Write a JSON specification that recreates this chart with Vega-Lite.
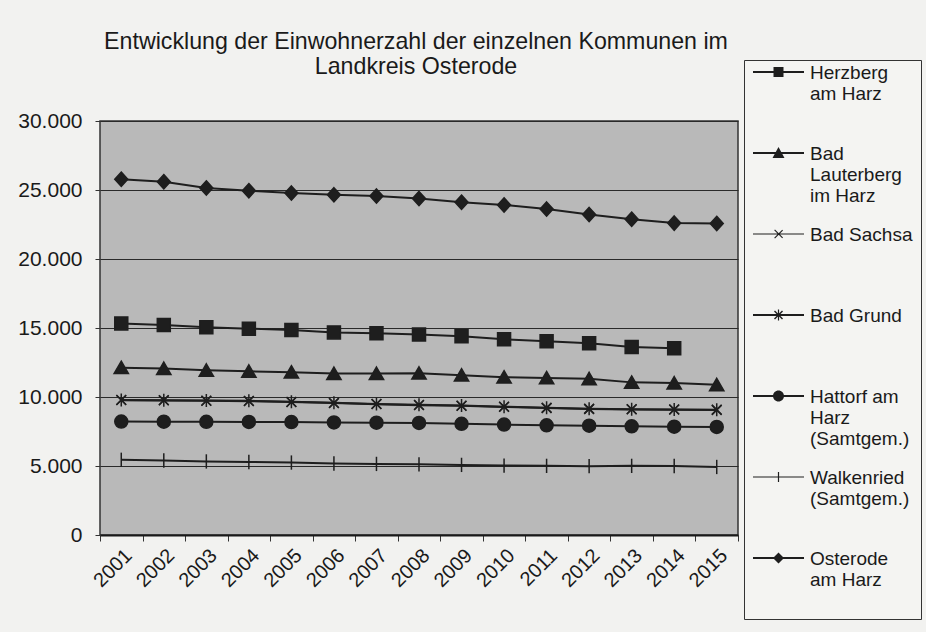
{
  "$schema": "https://vega.github.io/schema/vega-lite/v6.json",
  "width": 638,
  "height": 414,
  "autosize": {"type": "none"},
  "padding": {"left": 100, "top": 121, "right": 188, "bottom": 97},
  "background": "#f2f2f0",
  "title": {
    "text": ["Entwicklung der Einwohnerzahl der einzelnen Kommunen im", "Landkreis Osterode"],
    "font": "Liberation Sans",
    "fontSize": 23.2,
    "fontWeight": "normal",
    "color": "#1a1a1a",
    "anchor": "middle",
    "frame": "group",
    "lineHeight": 25,
    "offset": -20,
    "dx": -3
  },
  "config": {
    "locale": {"number": {"decimal": ",", "thousands": ".", "grouping": [3], "currency": ["", " €"]}},
    "view": {"fill": "#b9b9b9", "stroke": "#333333", "strokeWidth": 1.5},
    "axis": {"labelFont": "Liberation Sans", "labelColor": "#1a1a1a", "titleFont": "Liberation Sans"}
  },
  "data": {"values": [
    {"Kommune": "Herzberg am Harz", "Jahr": "2001", "Einwohner": 15330},
    {"Kommune": "Herzberg am Harz", "Jahr": "2002", "Einwohner": 15220},
    {"Kommune": "Herzberg am Harz", "Jahr": "2003", "Einwohner": 15060},
    {"Kommune": "Herzberg am Harz", "Jahr": "2004", "Einwohner": 14950},
    {"Kommune": "Herzberg am Harz", "Jahr": "2005", "Einwohner": 14850},
    {"Kommune": "Herzberg am Harz", "Jahr": "2006", "Einwohner": 14680},
    {"Kommune": "Herzberg am Harz", "Jahr": "2007", "Einwohner": 14620},
    {"Kommune": "Herzberg am Harz", "Jahr": "2008", "Einwohner": 14530},
    {"Kommune": "Herzberg am Harz", "Jahr": "2009", "Einwohner": 14400},
    {"Kommune": "Herzberg am Harz", "Jahr": "2010", "Einwohner": 14180},
    {"Kommune": "Herzberg am Harz", "Jahr": "2011", "Einwohner": 14040},
    {"Kommune": "Herzberg am Harz", "Jahr": "2012", "Einwohner": 13900},
    {"Kommune": "Herzberg am Harz", "Jahr": "2013", "Einwohner": 13630},
    {"Kommune": "Herzberg am Harz", "Jahr": "2014", "Einwohner": 13530},
    {"Kommune": "Bad Lauterberg im Harz", "Jahr": "2001", "Einwohner": 12120},
    {"Kommune": "Bad Lauterberg im Harz", "Jahr": "2002", "Einwohner": 12060},
    {"Kommune": "Bad Lauterberg im Harz", "Jahr": "2003", "Einwohner": 11930},
    {"Kommune": "Bad Lauterberg im Harz", "Jahr": "2004", "Einwohner": 11860},
    {"Kommune": "Bad Lauterberg im Harz", "Jahr": "2005", "Einwohner": 11800},
    {"Kommune": "Bad Lauterberg im Harz", "Jahr": "2006", "Einwohner": 11700},
    {"Kommune": "Bad Lauterberg im Harz", "Jahr": "2007", "Einwohner": 11700},
    {"Kommune": "Bad Lauterberg im Harz", "Jahr": "2008", "Einwohner": 11720},
    {"Kommune": "Bad Lauterberg im Harz", "Jahr": "2009", "Einwohner": 11580},
    {"Kommune": "Bad Lauterberg im Harz", "Jahr": "2010", "Einwohner": 11440},
    {"Kommune": "Bad Lauterberg im Harz", "Jahr": "2011", "Einwohner": 11380},
    {"Kommune": "Bad Lauterberg im Harz", "Jahr": "2012", "Einwohner": 11320},
    {"Kommune": "Bad Lauterberg im Harz", "Jahr": "2013", "Einwohner": 11060},
    {"Kommune": "Bad Lauterberg im Harz", "Jahr": "2014", "Einwohner": 11010},
    {"Kommune": "Bad Lauterberg im Harz", "Jahr": "2015", "Einwohner": 10880},
    {"Kommune": "Bad Sachsa", "Jahr": "2001", "Einwohner": 9770},
    {"Kommune": "Bad Sachsa", "Jahr": "2002", "Einwohner": 9750},
    {"Kommune": "Bad Sachsa", "Jahr": "2003", "Einwohner": 9720},
    {"Kommune": "Bad Sachsa", "Jahr": "2004", "Einwohner": 9700},
    {"Kommune": "Bad Sachsa", "Jahr": "2005", "Einwohner": 9630},
    {"Kommune": "Bad Sachsa", "Jahr": "2006", "Einwohner": 9560},
    {"Kommune": "Bad Sachsa", "Jahr": "2007", "Einwohner": 9480},
    {"Kommune": "Bad Sachsa", "Jahr": "2008", "Einwohner": 9410},
    {"Kommune": "Bad Sachsa", "Jahr": "2009", "Einwohner": 9360},
    {"Kommune": "Bad Sachsa", "Jahr": "2010", "Einwohner": 9280},
    {"Kommune": "Bad Sachsa", "Jahr": "2011", "Einwohner": 9200},
    {"Kommune": "Bad Sachsa", "Jahr": "2012", "Einwohner": 9130},
    {"Kommune": "Bad Sachsa", "Jahr": "2013", "Einwohner": 9100},
    {"Kommune": "Bad Sachsa", "Jahr": "2014", "Einwohner": 9080},
    {"Kommune": "Bad Sachsa", "Jahr": "2015", "Einwohner": 9060},
    {"Kommune": "Bad Grund", "Jahr": "2001", "Einwohner": 9790},
    {"Kommune": "Bad Grund", "Jahr": "2002", "Einwohner": 9770},
    {"Kommune": "Bad Grund", "Jahr": "2003", "Einwohner": 9740},
    {"Kommune": "Bad Grund", "Jahr": "2004", "Einwohner": 9720},
    {"Kommune": "Bad Grund", "Jahr": "2005", "Einwohner": 9650},
    {"Kommune": "Bad Grund", "Jahr": "2006", "Einwohner": 9580},
    {"Kommune": "Bad Grund", "Jahr": "2007", "Einwohner": 9500},
    {"Kommune": "Bad Grund", "Jahr": "2008", "Einwohner": 9430},
    {"Kommune": "Bad Grund", "Jahr": "2009", "Einwohner": 9380},
    {"Kommune": "Bad Grund", "Jahr": "2010", "Einwohner": 9300},
    {"Kommune": "Bad Grund", "Jahr": "2011", "Einwohner": 9220},
    {"Kommune": "Bad Grund", "Jahr": "2012", "Einwohner": 9150},
    {"Kommune": "Bad Grund", "Jahr": "2013", "Einwohner": 9120},
    {"Kommune": "Bad Grund", "Jahr": "2014", "Einwohner": 9100},
    {"Kommune": "Bad Grund", "Jahr": "2015", "Einwohner": 9080},
    {"Kommune": "Hattorf am Harz (Samtgem.)", "Jahr": "2001", "Einwohner": 8220},
    {"Kommune": "Hattorf am Harz (Samtgem.)", "Jahr": "2002", "Einwohner": 8210},
    {"Kommune": "Hattorf am Harz (Samtgem.)", "Jahr": "2003", "Einwohner": 8200},
    {"Kommune": "Hattorf am Harz (Samtgem.)", "Jahr": "2004", "Einwohner": 8190},
    {"Kommune": "Hattorf am Harz (Samtgem.)", "Jahr": "2005", "Einwohner": 8180},
    {"Kommune": "Hattorf am Harz (Samtgem.)", "Jahr": "2006", "Einwohner": 8160},
    {"Kommune": "Hattorf am Harz (Samtgem.)", "Jahr": "2007", "Einwohner": 8140},
    {"Kommune": "Hattorf am Harz (Samtgem.)", "Jahr": "2008", "Einwohner": 8120},
    {"Kommune": "Hattorf am Harz (Samtgem.)", "Jahr": "2009", "Einwohner": 8060},
    {"Kommune": "Hattorf am Harz (Samtgem.)", "Jahr": "2010", "Einwohner": 8000},
    {"Kommune": "Hattorf am Harz (Samtgem.)", "Jahr": "2011", "Einwohner": 7950},
    {"Kommune": "Hattorf am Harz (Samtgem.)", "Jahr": "2012", "Einwohner": 7920},
    {"Kommune": "Hattorf am Harz (Samtgem.)", "Jahr": "2013", "Einwohner": 7880},
    {"Kommune": "Hattorf am Harz (Samtgem.)", "Jahr": "2014", "Einwohner": 7850},
    {"Kommune": "Hattorf am Harz (Samtgem.)", "Jahr": "2015", "Einwohner": 7830},
    {"Kommune": "Walkenried (Samtgem.)", "Jahr": "2001", "Einwohner": 5450},
    {"Kommune": "Walkenried (Samtgem.)", "Jahr": "2002", "Einwohner": 5400},
    {"Kommune": "Walkenried (Samtgem.)", "Jahr": "2003", "Einwohner": 5330},
    {"Kommune": "Walkenried (Samtgem.)", "Jahr": "2004", "Einwohner": 5290},
    {"Kommune": "Walkenried (Samtgem.)", "Jahr": "2005", "Einwohner": 5250},
    {"Kommune": "Walkenried (Samtgem.)", "Jahr": "2006", "Einwohner": 5180},
    {"Kommune": "Walkenried (Samtgem.)", "Jahr": "2007", "Einwohner": 5150},
    {"Kommune": "Walkenried (Samtgem.)", "Jahr": "2008", "Einwohner": 5120},
    {"Kommune": "Walkenried (Samtgem.)", "Jahr": "2009", "Einwohner": 5080},
    {"Kommune": "Walkenried (Samtgem.)", "Jahr": "2010", "Einwohner": 5030},
    {"Kommune": "Walkenried (Samtgem.)", "Jahr": "2011", "Einwohner": 5010},
    {"Kommune": "Walkenried (Samtgem.)", "Jahr": "2012", "Einwohner": 4990},
    {"Kommune": "Walkenried (Samtgem.)", "Jahr": "2013", "Einwohner": 5010},
    {"Kommune": "Walkenried (Samtgem.)", "Jahr": "2014", "Einwohner": 5000},
    {"Kommune": "Walkenried (Samtgem.)", "Jahr": "2015", "Einwohner": 4930},
    {"Kommune": "Osterode am Harz", "Jahr": "2001", "Einwohner": 25780},
    {"Kommune": "Osterode am Harz", "Jahr": "2002", "Einwohner": 25600},
    {"Kommune": "Osterode am Harz", "Jahr": "2003", "Einwohner": 25150},
    {"Kommune": "Osterode am Harz", "Jahr": "2004", "Einwohner": 24950},
    {"Kommune": "Osterode am Harz", "Jahr": "2005", "Einwohner": 24780},
    {"Kommune": "Osterode am Harz", "Jahr": "2006", "Einwohner": 24650},
    {"Kommune": "Osterode am Harz", "Jahr": "2007", "Einwohner": 24560},
    {"Kommune": "Osterode am Harz", "Jahr": "2008", "Einwohner": 24380},
    {"Kommune": "Osterode am Harz", "Jahr": "2009", "Einwohner": 24120},
    {"Kommune": "Osterode am Harz", "Jahr": "2010", "Einwohner": 23920},
    {"Kommune": "Osterode am Harz", "Jahr": "2011", "Einwohner": 23620},
    {"Kommune": "Osterode am Harz", "Jahr": "2012", "Einwohner": 23220},
    {"Kommune": "Osterode am Harz", "Jahr": "2013", "Einwohner": 22880},
    {"Kommune": "Osterode am Harz", "Jahr": "2014", "Einwohner": 22600},
    {"Kommune": "Osterode am Harz", "Jahr": "2015", "Einwohner": 22580}
  ]},
  "encoding": {
    "x": {
      "field": "Jahr", "type": "ordinal",
      "scale": {"type": "band", "paddingInner": 0, "paddingOuter": 0},
      "axis": {
        "title": null, "labelAngle": -45, "labelFontSize": 20, "labelPadding": 4,
        "tickBand": "extent", "tickSize": 6, "tickColor": "#333333",
        "domainColor": "#1a1a1a", "domainWidth": 2, "grid": false
      }
    },
    "y": {
      "field": "Einwohner", "type": "quantitative",
      "scale": {"domain": [0, 30000], "nice": false},
      "axis": {
        "title": null, "values": [0, 5000, 10000, 15000, 20000, 25000, 30000],
        "format": ",d", "labelFontSize": 21, "labelPadding": 13,
        "tickSize": 5, "tickColor": "#333333", "domain": false,
        "grid": true, "gridColor": "#2a2a2a", "gridWidth": 1
      }
    }
  },
  "layer": [
    {
      "mark": {"type": "line", "stroke": "#1e1e1e", "strokeWidth": 2},
      "encoding": {"detail": {"field": "Kommune"}}
    },
    {
      "mark": {"type": "point", "filled": true, "fill": "#1e1e1e", "stroke": "#1e1e1e", "strokeWidth": 1.5, "size": 169, "opacity": 1},
      "encoding": {
        "shape": {
          "field": "Kommune", "type": "nominal",
          "scale": {
            "domain": ["Herzberg am Harz", "Bad Lauterberg im Harz", "Bad Sachsa", "Bad Grund", "Hattorf am Harz (Samtgem.)", "Walkenried (Samtgem.)", "Osterode am Harz"],
            "range": [
              "M-1,-1H1V1H-1Z",
              "M0,-1L1.1,0.9H-1.1Z",
              "M-0.75,-0.75L0.75,0.75M-0.75,0.75L0.75,-0.75",
              "M-0.75,-0.75L0.75,0.75M-0.75,0.75L0.75,-0.75M0,-1V1",
              "M1,0A1,1 0 1,1 -1,0A1,1 0 1,1 1,0Z",
              "M0,-1.1V1.1",
              "M0,-1.1L1,0L0,1.1L-1,0Z"
            ]
          },
          "legend": null
        }
      }
    },
    {
      "mark": {"type": "point", "filled": true, "fill": "#1e1e1e", "stroke": "#1e1e1e", "strokeWidth": 1.5, "opacity": 0, "size": 400},
      "encoding": {
        "shape": {
          "field": "Kommune", "type": "nominal",
          "scale": {
            "domain": ["Herzberg am Harz", "Bad Lauterberg im Harz", "Bad Sachsa", "Bad Grund", "Hattorf am Harz (Samtgem.)", "Walkenried (Samtgem.)", "Osterode am Harz"],
            "range": [
              "M-1,-0.8H4.1V-0.6H-1Z M1.05,-1.2H2.05V-0.2H1.05Z",
              "M-1,-0.8H4.1V-0.6H-1Z M1.55,-1.3L2.15,-0.2H0.95Z",
              "M-1,-0.76H4.1V-0.64H-1Z M1.2,-1.15L2.0,-0.35L1.92,-0.27L1.12,-1.07Z M1.12,-0.33L1.92,-1.13L2.0,-1.05L1.2,-0.25Z",
              "M-1,-0.8H4.1V-0.6H-1Z M1.2,-1.15L2.0,-0.35L1.9,-0.25L1.1,-1.05Z M1.1,-0.35L1.9,-1.15L2.0,-1.05L1.2,-0.25Z M1.49,-1.25H1.61V-0.15H1.49Z",
              "M-1,-0.8H4.1V-0.6H-1Z M2.1,-0.7A0.55,0.55 0 1,1 1,-0.7A0.55,0.55 0 1,1 2.1,-0.7Z",
              "M-1,-0.76H4.1V-0.64H-1Z M1.49,-1.2H1.61V-0.2H1.49Z",
              "M-1,-0.8H4.1V-0.6H-1Z M1.55,-1.25L2.1,-0.7L1.55,-0.15L1,-0.7Z"
            ]
          },
          "legend": {
            "title": null,
            "orient": "none",
            "legendX": 644,
            "legendY": -61,
            "direction": "vertical",
            "strokeColor": "#333333",
            "fillColor": "#f4f4f2",
            "padding": 8,
            "symbolSize": 400,
            "symbolStrokeWidth": 1.5,
            "symbolFillColor": "#1e1e1e",
            "symbolStrokeColor": "#1e1e1e",
            "labelFont": "Liberation Sans",
            "labelFontSize": 19,
            "labelColor": "#1a1a1a",
            "labelOffset": 36,
            "labelLimit": 200,
            "labelBaseline": "alphabetic",
            "gridAlign": "all",
            "rowPadding": 19,
            "labelExpr": "{'Herzberg am Harz': ['Herzberg', 'am Harz'], 'Bad Lauterberg im Harz': ['Bad', 'Lauterberg', 'im Harz'], 'Hattorf am Harz (Samtgem.)': ['Hattorf am', 'Harz', '(Samtgem.)'], 'Walkenried (Samtgem.)': ['Walkenried', '(Samtgem.)'], 'Osterode am Harz': ['Osterode', 'am Harz', ' ']}[datum.label] || datum.label"
          }
        }
      }
    }
  ],
  "resolve": {"scale": {"shape": "independent"}, "legend": {"shape": "independent"}}
}
